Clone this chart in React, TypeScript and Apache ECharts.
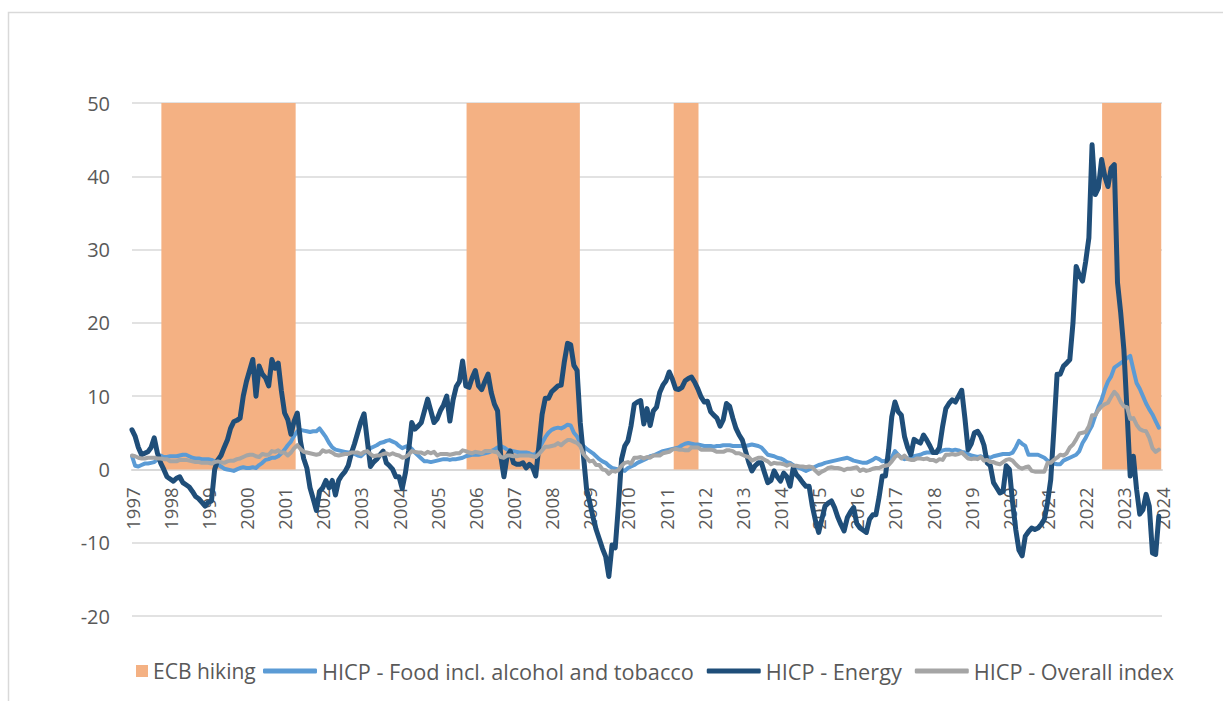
import React, { useEffect, useRef } from "react";
import * as echarts from "echarts";

const START_YEAR = 1997;
const X_MIN = 1997;
const X_MAX = 2024;
const Y_MIN = -20;
const Y_MAX = 50;
const Y_STEP = 10;

const HIKE_START = [1997.77, 2005.77, 2011.2, 2022.43];
const HIKE_END = [2001.29, 2008.74, 2011.85, 2023.98];
const HIKE_TOP = [50, 50, 50, 50];

// HICP - Energy, monthly from Jan 1997
const ENERGY = [
  5.4, 4.5, 3.0, 2.0, 2.2, 2.4, 3.0, 4.3, 2.2, 0.9, 0.0, -1.0,
  -1.3, -1.6, -1.2, -1.0, -1.8, -2.1, -2.4, -3.0, -3.7, -4.0, -4.5, -5.0,
  -4.5, -4.3, 0.0, 1.3, 1.9, 3.0, 4.0, 5.6, 6.5, 6.7, 7.0, 10.0,
  12.0, 13.5, 15.0, 10.0, 14.1, 13.0, 12.5, 11.4, 15.0, 13.8, 14.5, 10.7,
  7.7, 6.8, 4.8, 6.6, 7.7, 3.8, 1.5, 0.2, -2.5, -4.0, -5.6, -3.0,
  -2.5, -1.5, -2.5, -1.5, -3.5, -1.5, -0.8, -0.3, 0.5, 2.2, 3.5, 5.0,
  6.5, 7.6, 4.0, 0.4, 1.0, 1.4, 2.0, 2.5, 0.9, 0.5, 0.0, -1.0,
  -1.0, -2.6, -0.5, 2.5, 6.4, 5.5, 5.9, 6.4, 8.0, 9.6, 8.0, 6.4,
  6.9, 8.0, 8.8, 10.0, 6.6, 9.5, 11.3, 12.0, 14.8, 11.4, 11.2, 12.5,
  13.5, 11.4, 10.9, 12.0, 13.0, 10.5, 8.9, 8.0, 1.8, -1.0, 1.8, 2.5,
  0.9, 0.7, 0.7, 0.9, 0.2, 0.7, 0.3, -0.9, 3.2, 7.5, 9.7, 9.7,
  10.6, 11.0, 11.4, 11.5, 14.7, 17.2, 17.0, 14.2, 13.5, 6.4, 1.9, -2.7,
  -4.5, -6.5, -8.2, -9.5, -10.8, -11.9, -14.6, -10.3, -10.7, -5.0, 1.4, 3.2,
  3.9, 6.0, 8.9, 9.2, 9.4, 6.2, 8.3, 6.0, 8.0, 8.5, 10.5, 11.5,
  12.1, 13.3, 12.3, 11.0, 10.9, 11.2, 12.1, 12.4, 12.6, 11.9, 11.0, 9.9,
  9.2, 9.3, 7.9, 7.4, 7.0, 5.9, 6.8, 9.0, 8.6, 7.0, 5.6, 4.7,
  4.0, 2.5, 1.0, -0.2, 0.5, 0.9, 0.9, -0.5, -1.8, -1.5, -0.2, -1.0,
  -1.6, -0.5, -1.0, -2.3, 0.2, -0.7, -1.2, -1.8, -2.3, -2.3, -5.0, -7.0,
  -8.6, -6.8, -5.0, -4.6, -4.3, -5.2, -6.5, -7.5, -8.4, -6.6, -5.8, -5.2,
  -7.4, -8.0, -8.3, -8.6, -6.8, -6.2, -6.2, -3.8, -0.9, -0.9, 2.7, 7.2,
  9.2, 7.9, 7.4, 4.5, 3.0, 2.0, 4.1, 3.8, 3.6, 4.7, 4.0, 3.2,
  2.3, 2.3, 3.0, 5.9, 8.3, 9.0, 9.5, 9.2, 10.0, 10.8, 7.0, 2.7,
  3.5, 5.0, 5.2, 4.5, 3.3, 0.9, 0.5, -1.8, -2.5, -3.2, -3.0, 0.5,
  0.0, -4.5, -8.2, -11.0, -11.8, -9.1, -8.5, -8.0, -8.2, -8.0, -7.5, -6.8,
  -4.5, -1.4, 5.5, 13.0, 13.0, 14.1, 14.5, 15.0, 20.0, 27.7, 26.5, 25.7,
  28.4, 31.6, 44.3, 37.5, 38.4, 42.3, 40.0, 38.6, 41.1, 41.6, 25.5, 21.4,
  16.4, 8.0, -0.9, 1.8, -2.7, -6.1, -5.5, -3.4, -5.0, -11.4, -11.6, -6.4,
];

// HICP - Food incl. alcohol and tobacco, monthly from Jan 1997
const FOOD = [
  1.8, 0.5, 0.4, 0.6, 0.8, 0.8, 0.9, 1.0, 1.4, 1.9, 1.7, 1.7,
  1.8, 1.8, 1.8, 1.9, 2.0, 2.0, 1.8, 1.6, 1.5, 1.5, 1.4, 1.4,
  1.4, 1.3, 1.1, 0.7, 0.4, 0.1, 0.0, -0.1, -0.2, 0.0, 0.2, 0.3,
  0.2, 0.2, 0.3, 0.2, 0.6, 0.9, 1.3, 1.4, 1.6, 1.6, 1.8, 2.2,
  2.7, 3.3, 3.8, 4.6, 5.2, 5.4, 5.3, 5.2, 5.1, 5.2, 5.2, 5.6,
  5.0, 4.4, 3.6, 3.0, 2.7, 2.6, 2.5, 2.4, 2.3, 2.3, 2.1, 1.9,
  1.8, 2.2, 2.5, 2.9, 3.1, 3.3, 3.6, 3.7, 3.9, 4.0, 3.8, 3.6,
  3.2, 2.9, 3.1, 3.2, 2.8, 2.3, 1.9, 1.5, 1.1, 1.1, 1.0, 1.1,
  1.2, 1.3, 1.4, 1.4, 1.3, 1.4, 1.4, 1.5, 1.6, 1.8, 1.9, 2.0,
  2.0, 2.0, 2.1, 2.2, 2.3, 2.5, 2.7, 3.0, 3.2, 3.0, 2.7, 2.6,
  2.5, 2.4, 2.3, 2.3, 2.3, 2.2, 2.0, 2.1, 2.8, 3.6, 4.4, 5.0,
  5.4, 5.6, 5.7, 5.6, 5.8, 6.1, 6.0, 5.0, 4.5, 3.6, 3.2, 2.8,
  2.5, 2.2, 1.8, 1.4, 1.1, 0.9, 0.5, 0.2, 0.1, 0.0, -0.1, -0.2,
  0.2, 0.4, 0.6, 0.9, 1.1, 1.3, 1.5, 1.8, 1.9, 2.1, 2.3, 2.5,
  2.6, 2.7, 2.8, 2.9, 3.0, 3.3, 3.5, 3.6, 3.5, 3.4, 3.4, 3.3,
  3.2, 3.2, 3.2, 3.1, 3.2, 3.2, 3.3, 3.3, 3.3, 3.2, 3.2, 3.2,
  3.2, 3.2, 3.3, 3.4, 3.3, 3.2, 3.0, 2.5, 2.0, 1.9, 1.8, 1.6,
  1.5, 1.3, 1.0, 0.9, 0.6, 0.3, 0.2, 0.0, -0.2, 0.0, 0.2, 0.4,
  0.6, 0.7, 0.9, 1.0, 1.1, 1.2, 1.3, 1.4, 1.5, 1.6, 1.4, 1.2,
  1.1, 1.0, 0.9, 0.9, 1.1, 1.3, 1.6, 1.4, 1.1, 1.2, 1.4, 1.6,
  2.5, 2.0, 1.6, 1.4, 1.5, 1.6, 1.8, 1.9, 2.0, 2.2, 2.3, 2.3,
  2.3, 2.3, 2.4, 2.6, 2.7, 2.7, 2.6, 2.7, 2.6, 2.4, 2.3, 2.1,
  1.9, 1.8, 1.7, 1.8, 1.6, 1.7, 1.6, 1.8, 1.9, 2.0, 2.1, 2.1,
  2.1, 2.3, 3.0, 3.9, 3.5, 3.2, 2.0, 2.0, 2.0, 2.0, 1.8, 1.6,
  1.2, 0.9, 0.8, 0.7, 0.7, 1.2, 1.4, 1.6, 1.8, 2.0, 2.5, 3.6,
  4.3, 5.2, 6.0, 7.3, 8.5, 9.5, 10.9, 12.0, 12.7, 13.9, 14.2, 14.5,
  14.8, 15.2, 15.5, 13.6, 11.8, 11.0, 10.0, 9.0, 8.2, 7.5, 6.6, 5.7,
];

// HICP - Overall index, monthly from Jan 1997
const OVERALL = [
  1.9, 1.8, 1.6, 1.5, 1.5, 1.6, 1.6, 1.6, 1.5, 1.5, 1.4, 1.4,
  1.1, 1.1, 1.1, 1.3, 1.3, 1.3, 1.2, 1.1, 1.0, 1.0, 0.9, 0.9,
  0.9, 0.8, 1.0, 1.1, 1.0, 0.9, 1.1, 1.2, 1.2, 1.4, 1.5, 1.7,
  1.9, 2.0, 2.0, 1.8, 1.7, 2.1, 2.0, 2.0, 2.5, 2.4, 2.6, 2.3,
  2.3, 1.9, 2.3, 2.9, 3.3, 2.8, 2.4, 2.3, 2.2, 2.1, 2.0, 2.1,
  2.6, 2.4, 2.5, 2.3, 2.0, 1.9, 2.0, 2.1, 2.1, 2.3, 2.3, 2.3,
  2.1, 2.4, 2.5, 2.1, 1.8, 1.9, 1.9, 2.1, 2.2, 2.0, 2.2, 2.0,
  1.9, 1.6, 1.7, 2.0, 2.5, 2.4, 2.3, 2.3, 2.1, 2.4, 2.2, 2.4,
  1.9, 2.1, 2.1, 2.1, 2.0, 2.1, 2.2, 2.2, 2.6, 2.5, 2.3, 2.2,
  2.4, 2.3, 2.2, 2.5, 2.5, 2.5, 2.4, 2.3, 1.7, 1.6, 1.9, 1.9,
  1.8, 1.8, 1.9, 1.9, 1.9, 1.9, 1.8, 1.7, 2.1, 2.6, 3.1, 3.1,
  3.2, 3.3, 3.6, 3.3, 3.7, 4.0, 4.0, 3.8, 3.6, 3.2, 2.1, 1.6,
  1.1, 1.2, 0.6, 0.6, 0.0, -0.1, -0.6, -0.2, -0.3, -0.1, 0.5, 0.9,
  1.0, 0.8, 1.6, 1.6, 1.7, 1.5, 1.7, 1.6, 1.9, 1.9, 1.9, 2.2,
  2.3, 2.4, 2.7, 2.8, 2.7, 2.7, 2.6, 2.6, 3.0, 3.0, 3.0, 2.7,
  2.7, 2.7, 2.7, 2.6, 2.4, 2.4, 2.4, 2.6, 2.6, 2.5, 2.2, 2.2,
  2.0, 1.8, 1.7, 1.2, 1.4, 1.6, 1.6, 1.3, 1.1, 0.7, 0.9, 0.8,
  0.8, 0.7, 0.5, 0.7, 0.5, 0.5, 0.4, 0.4, 0.3, 0.4, 0.3, -0.2,
  -0.6, -0.3, -0.1, 0.2, 0.3, 0.2, 0.2, 0.1, -0.1, 0.1, 0.1, 0.2,
  0.3, -0.2, 0.0, -0.2, -0.1, 0.1, 0.2, 0.2, 0.4, 0.5, 0.6, 1.1,
  1.7, 2.0, 1.5, 1.9, 1.4, 1.3, 1.3, 1.5, 1.5, 1.4, 1.5, 1.3,
  1.3, 1.1, 1.4, 1.3, 2.0, 2.0, 2.1, 2.0, 2.1, 2.3, 1.9, 1.5,
  1.4, 1.5, 1.4, 1.7, 1.2, 1.3, 1.0, 1.0, 0.8, 0.7, 1.0, 1.3,
  1.4, 1.2, 0.7, 0.3, 0.1, 0.3, 0.4, -0.2, -0.3, -0.3, -0.3, -0.3,
  0.9, 0.9, 1.3, 1.6, 2.0, 1.9, 2.2, 3.0, 3.4, 4.1, 4.9, 5.0,
  5.1, 5.9, 7.4, 7.4, 8.1, 8.6, 8.9, 9.1, 9.9, 10.6, 10.1, 9.2,
  8.6, 8.5, 6.9, 7.0, 6.1, 5.5, 5.3, 5.2, 4.3, 2.9, 2.4, 2.7,
];

const NAME_HIKE = "ECB hiking";
const NAME_FOOD = "HICP - Food incl. alcohol and tobacco";
const NAME_ENERGY = "HICP - Energy";
const NAME_OVERALL = "HICP - Overall index";

const C_HIKE = "#F4B183";
const C_FOOD = "#5B9BD5";
const C_ENERGY = "#1F4E79";
const C_OVERALL = "#A5A5A5";
const TXT = "#595959";
const GRID = "#D9D9D9";
const FONT = "'Open Sans', 'Noto Sans', sans-serif";

const W = 1223;
const H = 701;
const GRID_TOP = 103;
const GRID_BOTTOM = 85;
const PLOT_H = H - GRID_TOP - GRID_BOTTOM;
const ZERO_FROM_BOTTOM = (PLOT_H * (0 - Y_MIN)) / (Y_MAX - Y_MIN);

const monthX = (i: number) => START_YEAR + i / 12;
const toPairs = (arr: number[]) => arr.map((v, i) => [monthX(i), v]);

export default function App() {
  const ref = useRef<HTMLDivElement>(null);

  useEffect(() => {
    if (!ref.current) return;
    const chart = echarts.init(ref.current, undefined, { renderer: "svg" });
    const lineSeries = (name: string, data: number[], color: string, width: number) => ({
      name,
      type: "line",
      data: toPairs(data),
      showSymbol: false,
      symbol: "none",
      smooth: false,
      lineStyle: { color, width, cap: "round", join: "round" },
      itemStyle: { color },
      emphasis: { disabled: true },
      z: 3,
    });
    chart.setOption({
      animation: false,
      backgroundColor: "#ffffff",
      graphic: [
        {
          type: "rect",
          shape: { x: 8.5, y: 12.5, width: 1400, height: 1000 },
          style: { fill: "none", stroke: GRID, lineWidth: 1.5 },
          silent: true,
          z: -10,
        },
      ],
      grid: {
        left: 132,
        right: 61,
        top: GRID_TOP,
        bottom: GRID_BOTTOM,
        containLabel: false,
        outerBoundsMode: "none",
      },
      legend: [
        {
          data: [{ name: NAME_HIKE, icon: "rect" }],
          left: 136,
          top: 658,
          padding: 0,
          itemWidth: 12,
          itemHeight: 12,
          textStyle: { color: TXT, fontSize: 21, fontFamily: FONT, lineHeight: 26 },
          selectedMode: false,
        },
        {
          data: [
            { name: NAME_FOOD, icon: "roundRect" },
            { name: NAME_ENERGY, icon: "roundRect" },
            { name: NAME_OVERALL, icon: "roundRect" },
          ],
          left: 263,
          top: 658,
          padding: 0,
          itemGap: 13,
          itemWidth: 54,
          itemHeight: 5,
          textStyle: { color: TXT, fontSize: 21.7, fontFamily: FONT, lineHeight: 26 },
          selectedMode: false,
        },
      ],
      xAxis: {
        type: "value",
        min: X_MIN,
        max: X_MAX,
        interval: 1,
        offset: -ZERO_FROM_BOTTOM,
        axisLine: { show: true, onZero: false, lineStyle: { color: GRID, width: 2 } },
        axisTick: { show: false },
        splitLine: { show: false },
        axisLabel: {
          rotate: 90,
          margin: 18,
          color: TXT,
          fontSize: 18.5,
          fontFamily: FONT,
          formatter: (v: number) => String(Math.round(v)),
          showMinLabel: true,
          showMaxLabel: true,
        },
      },
      yAxis: {
        type: "value",
        min: Y_MIN,
        max: Y_MAX,
        interval: Y_STEP,
        axisLine: { show: false },
        axisTick: { show: false },
        splitLine: { show: true, lineStyle: { color: GRID, width: 1.5 } },
        axisLabel: { color: TXT, fontSize: 20, fontFamily: FONT, margin: 22 },
      },
      series: [
        {
          name: NAME_HIKE,
          type: "custom",
          itemStyle: { color: C_HIKE },
          encode: { x: [0, 1], y: 2 },
          data: HIKE_START.map((s, i) => [s, HIKE_END[i], HIKE_TOP[i]]),
          renderItem: (_params: any, api: any) => {
            const p0 = api.coord([api.value(0), api.value(2)]);
            const p1 = api.coord([api.value(1), 0]);
            return {
              type: "rect",
              shape: { x: p0[0], y: p0[1], width: p1[0] - p0[0], height: p1[1] - p0[1] },
              style: { fill: C_HIKE },
            };
          },
          z: 2,
          silent: true,
        },
        lineSeries(NAME_FOOD, FOOD, C_FOOD, 4),
        lineSeries(NAME_ENERGY, ENERGY, C_ENERGY, 5),
        lineSeries(NAME_OVERALL, OVERALL, C_OVERALL, 4),
      ],
    });
    return () => chart.dispose();
  }, []);

  return (
    <div
      ref={ref}
      style={{ position: "absolute", left: 0, top: 0, width: W, height: H, background: "#fff" }}
    />
  );
}
